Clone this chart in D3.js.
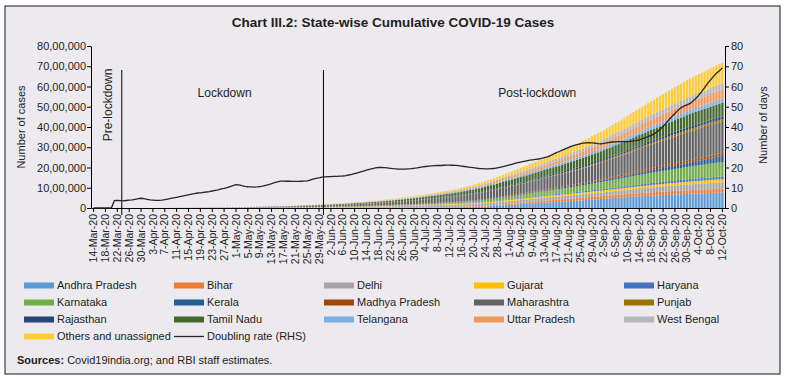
<!DOCTYPE html>
<html><head><meta charset="utf-8">
<script src="https://cdn.jsdelivr.net/npm/d3@7"></script>
<style>
html,body{margin:0;padding:0;background:#fff;}
svg{display:block;font-family:"Liberation Sans",Arial,Helvetica,sans-serif;}
</style></head><body>
<svg id="chart" width="786" height="380"></svg>
<script>
// ---------- DATA (cumulative confirmed cases, in thousands) ----------
const stateNames = ["Andhra Pradesh","Bihar","Delhi","Gujarat","Haryana","Karnataka","Kerala","Madhya Pradesh","Maharashtra","Punjab","Rajasthan","Tamil Nadu","Telangana","Uttar Pradesh","West Bengal","Others and unassigned"];
const stateColors = ["#5B9BD5","#ED7D31","#A5A5A5","#FFC000","#4472C4","#70AD47","#255E91","#9E480E","#636363","#997300","#264478","#43682B","#7CAFDD","#F1975A","#B7B7B7","#FFCD33"];

const andhraPradesh = [0,0,0,0,0,0,0,0,0,0,0,0,0,0,0,0,0,0,0,0,0,0,0,0,0,0,0,0,0,0,0,0,0,
1,1,1,1,1,1,1,1,1,1,1,1,1,1,1,
1,1,1,1,1,
2,2,2,2,2,2,2,2,2,2,
2,2,2,3,3,3,3,3,3,3,3,3,3,4,4,4,
4,4,4,4,4,5,5,5,5,5,5,5,6,6,6,
7,7,8,8,9,9,10,10,11,11,12,12,13,14,15,
16,17,18,19,20,21,23,24,25,27,28,30,31,33,36,
38,41,44,47,50,53,58,64,72,80,88,96,106,116,130,141,
150,158,166,176,186,196,206,217,227,237,247,254,264,273,282,
291,300,306,316,325,334,344,353,363,372,382,392,403,414,424,435,
445,455,466,476,487,498,507,517,527,537,547,557,566,575,584,
592,601,609,617,625,632,639,647,654,661,668,675,681,687,694,
700,707,713,719,723,729,735,740,744,749,753,758];

const bihar = [0,0,0,0,0,0,0,0,0,0,0,0,0,0,0,0,0,0,0,0,0,0,0,0,0,0,0,0,0,0,0,0,0,0,0,0,0,0,0,0,0,0,0,0,0,0,0,0,0,0,0,0,0,0,0,0,
1,1,1,1,1,1,1,1,1,
2,2,2,2,2,
3,3,3,3,3,
4,4,4,4,
4,4,4,5,5,5,5,5,6,6,6,6,6,7,7,
7,7,7,8,8,8,8,8,9,9,9,9,9,10,10,
10,11,11,12,12,13,13,14,14,15,16,16,17,18,19,
20,21,23,24,26,27,29,31,33,35,37,39,42,45,48,51,
54,58,61,64,68,71,75,79,82,86,90,94,97,101,104,
106,108,110,113,115,117,119,121,123,125,127,129,131,132,134,136,
138,140,141,143,145,147,148,150,152,153,155,157,158,160,161,
162,164,165,166,168,169,170,172,173,174,176,177,178,179,180,
181,183,184,185,187,188,189,191,192,193,195,196];

const delhi = [0,0,0,0,0,0,0,0,0,0,0,0,0,0,0,0,0,0,0,0,0,0,0,0,
1,1,1,1,
2,2,2,2,2,2,2,2,
3,3,3,3,3,3,3,3,3,
4,4,4,4,
5,5,5,
6,6,6,
7,7,7,
8,8,8,
9,9,
10,10,11,11,12,12,13,13,14,15,15,16,17,18,19,20,
21,22,23,25,26,27,29,30,32,34,36,37,39,41,43,
45,47,50,53,56,59,62,66,70,73,77,80,83,85,87,
89,92,94,97,99,102,104,107,109,110,112,113,114,115,116,
118,119,120,122,123,124,125,127,128,129,130,131,132,133,135,136,
137,138,139,140,141,142,143,144,146,147,148,149,150,151,152,
153,154,155,157,158,159,161,162,164,165,167,169,170,172,173,175,
177,179,182,185,188,191,194,197,201,205,209,214,218,222,226,
230,234,238,242,246,249,253,257,260,264,267,271,274,277,280,
283,285,288,290,293,295,298,300,303,306,308,311];

const gujarat = [0,0,0,0,0,0,0,0,0,0,0,0,0,0,0,0,0,0,0,0,0,0,0,0,0,0,0,0,0,0,
1,1,1,1,1,1,
2,2,2,2,
3,3,3,3,3,
4,4,4,4,
5,5,5,
6,6,6,
7,7,
8,8,8,
9,9,
10,
10,11,11,12,12,12,13,13,14,14,15,15,15,16,16,17,
17,18,18,19,19,20,20,21,21,22,22,23,23,24,24,
25,25,26,26,27,28,28,29,29,30,31,31,32,32,33,
34,34,35,36,37,38,38,39,40,41,41,42,43,44,45,
46,47,48,49,50,51,52,53,54,55,56,57,58,59,60,61,
62,63,64,65,66,67,68,69,71,72,73,74,75,76,77,
78,79,80,82,83,84,85,86,88,89,90,91,92,94,95,96,
97,99,100,101,103,104,105,106,108,109,110,112,113,114,115,
117,118,120,121,123,124,126,127,129,130,132,133,135,136,138,
139,140,142,143,144,145,147,148,149,150,152,153];

const haryana = [0,0,0,0,0,0,0,0,0,0,0,0,0,0,0,0,0,0,0,0,0,0,0,0,0,0,0,0,0,0,0,0,0,0,0,0,0,0,0,0,0,0,0,0,0,0,0,0,0,0,0,0,0,0,0,
1,1,1,1,1,1,1,1,1,1,1,1,1,1,1,1,
2,2,2,2,2,2,2,2,
2,3,3,3,4,4,4,5,5,5,6,6,7,7,8,
8,9,9,10,10,11,11,12,12,13,13,14,14,15,15,
16,16,17,17,18,18,19,19,20,21,21,22,22,23,23,
24,24,25,26,27,27,28,29,29,30,31,31,32,33,33,34,
35,36,36,37,38,39,39,40,41,41,42,43,44,44,45,
46,47,48,49,50,51,52,53,54,55,57,58,59,60,61,63,
65,67,69,71,73,75,77,79,81,83,85,87,89,92,94,
96,98,101,103,105,108,110,112,114,116,118,120,122,125,127,
128,129,131,132,133,134,135,136,138,139,140,141];

const karnataka = [0,0,0,0,0,0,0,0,0,0,0,0,0,0,0,0,0,0,0,0,0,0,0,0,0,0,0,0,0,0,0,0,0,0,0,0,0,0,0,0,0,0,0,0,0,
1,1,1,1,1,1,1,1,1,1,1,1,1,1,1,1,1,1,1,1,1,1,1,1,1,1,
2,2,2,2,2,
3,3,3,
3,4,4,4,5,5,5,5,6,6,6,7,7,7,8,
8,8,9,9,9,10,10,10,11,11,12,13,13,14,15,
17,18,20,21,23,25,27,29,31,33,36,38,41,44,47,
51,55,59,63,67,71,75,80,85,90,96,101,107,112,118,124,
129,134,140,145,151,158,164,172,179,186,193,200,206,213,219,
226,233,240,249,256,264,271,278,286,292,300,309,318,327,335,342,
351,361,370,379,389,398,404,412,421,430,440,449,459,467,475,
484,494,503,511,519,527,533,541,549,557,566,575,584,593,602,
611,621,630,640,647,655,668,679,690,697,703,710];

const kerala = [0,0,0,0,0,0,0,0,0,0,0,0,0,0,0,0,0,0,0,0,0,0,0,0,0,0,0,0,0,0,0,0,0,0,0,0,0,0,0,0,0,0,0,0,0,0,0,0,0,0,0,0,0,0,0,0,0,0,0,0,0,0,0,
1,1,1,1,1,1,1,1,1,1,1,1,1,1,1,1,1,1,
2,2,2,2,2,2,2,2,
3,3,3,3,3,3,3,3,3,3,
4,4,4,4,4,4,4,4,4,4,
5,5,5,6,6,6,7,7,7,8,8,9,9,10,10,
11,11,12,13,14,14,15,16,17,18,19,20,21,22,23,24,
25,26,27,28,30,31,32,33,34,35,36,38,39,40,41,
43,45,47,48,50,52,54,56,58,60,62,64,67,70,72,75,
77,79,81,84,87,89,92,95,98,101,104,107,111,114,118,
121,125,129,133,138,143,147,152,157,162,168,174,180,188,196,
204,212,221,229,236,242,251,262,273,282,291,300];

const madhyaPradesh = [0,0,0,0,0,0,0,0,0,0,0,0,0,0,0,0,0,0,0,0,0,0,0,0,0,0,0,0,0,
1,1,1,1,1,1,1,1,1,1,1,
2,2,2,2,2,
3,3,3,3,3,3,3,3,
4,4,4,4,4,4,4,4,4,
5,5,5,5,
6,6,6,6,
7,7,7,7,7,
8,8,8,8,
8,8,9,9,9,9,10,10,10,10,10,10,11,11,11,
11,11,12,12,12,12,12,13,13,13,13,13,14,14,14,
14,15,15,15,16,16,16,17,17,17,18,18,18,19,19,
20,21,21,22,23,24,24,25,26,27,28,28,29,30,31,32,
33,34,34,35,36,37,38,39,39,40,41,42,43,43,44,
45,46,48,49,51,52,53,55,56,58,59,61,62,64,65,67,
68,70,71,73,74,76,77,79,81,82,84,85,87,88,90,
92,94,96,99,101,103,106,108,110,113,115,117,120,122,124,
126,127,129,130,132,133,135,136,138,139,141,142];

const maharashtra = [0,0,0,0,0,0,0,0,0,0,0,0,0,0,0,0,0,0,0,0,0,0,0,0,
1,1,1,1,
2,2,2,2,
3,
3,4,4,5,5,6,6,7,7,8,8,9,10,10,11,
12,13,14,15,16,17,18,19,20,22,23,25,26,27,29,
31,33,35,37,39,42,44,47,50,52,54,57,59,62,65,68,
70,73,75,78,81,83,86,88,91,94,97,101,104,108,111,
114,117,121,124,128,132,136,140,143,148,152,157,162,169,175,
181,187,193,200,206,213,217,224,231,238,246,254,260,267,276,
284,292,300,310,318,327,337,347,357,366,375,383,392,401,411,422,
432,442,451,461,469,479,490,503,515,525,535,548,560,573,585,
596,604,615,628,643,657,671,682,693,703,718,733,747,764,780,793,
808,825,843,863,883,907,924,943,967,990,1015,1037,1060,1077,1098,
1121,1145,1167,1188,1209,1224,1242,1263,1284,1305,1324,1341,1359,1381,1401,
1416,1430,1443,1453,1465,1480,1492,1504,1512,1521,1528,1535];

const punjab = [0,0,0,0,0,0,0,0,0,0,0,0,0,0,0,0,0,0,0,0,0,0,0,0,0,0,0,0,0,0,0,0,0,0,0,0,0,0,0,0,0,0,0,0,0,0,0,0,
1,1,1,
2,2,2,2,2,2,2,2,2,2,2,2,2,2,2,2,2,2,2,2,2,2,2,2,2,2,2,2,2,2,2,2,2,2,2,2,
3,3,3,3,3,3,3,3,3,3,3,
4,4,4,4,4,
5,5,5,
6,6,6,
6,6,7,7,7,7,7,8,8,8,8,8,9,9,9,
10,10,10,11,11,11,12,12,13,13,14,14,15,15,16,16,
17,17,18,19,20,20,21,22,23,24,25,25,26,27,28,
29,31,32,34,35,37,38,40,41,43,44,46,48,50,52,54,
56,57,59,61,63,64,66,68,70,71,73,75,77,79,81,
83,85,87,90,92,94,97,99,101,103,106,108,110,112,114,
115,116,117,118,118,119,120,121,122,122,123,124];

const rajasthan = [0,0,0,0,0,0,0,0,0,0,0,0,0,0,0,0,0,0,0,0,0,0,0,0,0,0,0,0,0,
1,1,1,1,1,1,1,1,1,1,
2,2,2,2,2,2,
3,3,3,3,3,3,3,3,
4,4,4,4,4,4,
5,5,5,5,5,
6,6,6,6,
7,7,7,7,
8,8,8,8,
9,9,9,
9,9,10,10,10,11,11,11,11,12,12,12,12,13,13,
13,14,14,14,15,15,15,16,16,16,17,17,17,18,18,
19,19,20,20,21,21,22,22,23,23,24,24,25,25,26,
27,28,29,30,31,32,33,33,34,35,36,37,38,39,40,41,
42,43,45,46,47,48,49,51,52,53,54,55,57,58,59,
60,62,63,65,66,68,69,70,72,73,75,76,78,79,81,82,
83,85,87,88,90,92,93,95,96,98,99,101,103,104,106,
108,110,111,113,115,117,118,120,122,124,125,127,129,130,132,
134,136,138,139,141,143,145,146,148,150,151,153];

const tamilNadu = [0,0,0,0,0,0,0,0,0,0,0,0,0,0,0,0,0,0,0,0,0,0,0,
1,1,1,1,1,1,1,1,1,1,1,1,1,1,1,1,
2,2,2,2,2,2,2,2,2,
3,3,3,4,4,5,6,6,7,8,8,9,9,10,10,
11,11,12,12,13,14,14,15,16,16,17,18,19,20,21,22,
24,25,27,28,30,31,33,34,36,38,40,42,43,44,46,
48,50,53,56,59,62,65,67,70,74,77,80,83,86,90,
94,98,102,107,111,115,118,122,126,130,134,138,142,147,152,
156,161,166,171,175,180,186,192,199,206,213,220,227,234,239,246,
251,257,263,268,274,279,285,291,297,303,309,314,320,326,332,
338,343,349,355,361,367,373,379,385,391,397,403,409,415,422,428,
434,440,445,451,457,463,469,474,480,486,491,497,503,508,514,
520,525,531,536,542,548,553,559,564,570,575,581,586,592,598,
603,608,614,619,624,630,635,640,645,651,656,661];

const telangana = [0,0,0,0,0,0,0,0,0,0,0,0,0,0,0,0,0,0,0,0,0,0,0,0,0,0,0,0,0,0,
1,1,1,1,1,1,1,1,1,1,1,1,1,1,1,1,1,1,1,1,1,1,1,1,1,1,1,1,1,1,
2,2,2,2,2,2,2,2,2,2,2,2,2,
3,3,3,3,3,3,3,3,3,3,
4,4,4,4,4,4,
5,5,5,5,5,
6,6,7,7,8,8,9,9,10,11,12,13,14,15,16,
17,18,20,21,23,24,26,27,29,30,32,34,35,37,39,
41,42,44,45,47,49,50,52,54,55,57,58,60,62,63,65,
67,69,71,72,74,76,78,79,81,83,84,86,88,89,91,
93,95,98,100,102,104,107,109,111,114,116,118,121,123,125,128,
130,133,135,138,140,143,145,147,150,152,154,156,158,161,163,
165,167,169,171,173,175,177,179,181,183,185,187,188,190,191,
193,195,197,199,200,202,204,205,207,209,210,212];

const uttarPradesh = [0,0,0,0,0,0,0,0,0,0,0,0,0,0,0,0,0,0,0,0,0,0,0,0,0,0,0,0,0,0,
1,1,1,1,1,1,1,1,1,1,1,1,
2,2,2,2,2,2,2,2,2,
3,3,3,3,3,3,3,3,
4,4,4,4,4,4,
5,5,5,5,
6,6,6,
7,7,7,7,
8,8,8,
8,9,9,9,10,10,10,11,11,12,12,13,13,14,14,
15,15,16,16,17,17,18,18,19,20,20,21,21,22,23,
24,25,26,27,28,29,30,31,32,33,35,36,38,39,41,
43,45,47,49,51,53,56,58,61,64,67,70,74,77,81,86,
90,94,98,102,106,110,113,118,122,127,131,136,140,145,150,
154,159,163,168,172,177,182,187,192,198,203,208,214,219,225,230,
236,242,248,254,260,266,272,278,285,291,298,305,311,318,324,
330,336,342,348,353,358,364,369,374,379,384,388,392,395,399,
403,406,410,413,417,420,423,427,430,432,435,438];

const westBengal = [0,0,0,0,0,0,0,0,0,0,0,0,0,0,0,0,0,0,0,0,0,0,0,0,0,0,0,0,0,0,0,0,0,0,0,0,0,0,0,0,0,0,0,0,0,
1,1,1,1,1,1,1,1,1,1,1,1,
2,2,2,2,2,2,
3,3,3,3,
4,4,4,4,4,
5,5,5,5,5,
6,6,
6,6,7,7,7,8,8,9,9,10,10,11,11,12,12,
12,13,13,14,14,15,15,15,16,16,17,17,18,18,19,
20,21,21,22,23,24,25,26,27,28,29,30,31,32,34,
36,38,40,42,44,46,48,51,53,56,58,61,63,65,67,70,
73,75,78,81,84,87,89,92,95,98,101,104,107,110,113,
116,119,122,125,128,131,135,138,141,144,147,150,153,156,160,163,
166,169,172,175,178,181,184,187,190,193,197,200,203,206,209,
212,215,219,222,225,228,232,235,238,241,245,248,251,254,257,
260,264,267,270,274,277,281,284,288,292,295,299];

const othersUnassigned = [0,0,0,0,0,0,0,0,0,0,0,0,0,0,0,0,0,0,0,0,0,0,0,0,0,0,0,0,0,0,0,0,0,0,0,
1,1,1,1,1,1,1,1,1,1,1,1,1,1,1,1,1,1,1,1,1,
2,2,2,2,2,2,2,2,2,
3,3,3,
4,4,
5,5,
6,7,8,9,10,12,13,
14,14,15,15,16,16,17,17,18,19,19,20,21,21,22,
23,24,25,26,27,28,29,30,31,32,33,34,35,37,38,
40,42,44,46,48,50,52,54,56,58,60,62,64,67,70,
74,78,82,86,90,94,98,103,108,113,118,123,128,134,141,148,
155,162,169,176,184,191,199,207,215,223,230,238,246,254,262,
271,280,289,298,307,316,326,336,346,356,366,376,386,397,409,421,
434,447,461,475,489,503,518,533,548,564,581,598,614,631,648,
663,678,693,708,723,738,754,770,786,802,817,832,847,862,878,
891,904,917,930,943,956,969,982,995,1007,1018,1030];

// Doubling rate (days), right-hand scale
const doublingRate = [0,0,0,0,0,0,0,3.6,3.7,3.6,
3.5,3.7,3.9,4.0,4.3,4.6,4.8,4.6,4.3,4.0,
3.9,3.8,3.8,3.9,4.1,4.4,4.7,5.0,5.3,5.6,
5.9,6.2,6.5,6.8,7.1,7.4,7.5,7.7,7.9,8.1,
8.4,8.7,9.0,9.4,9.7,10.1,10.6,11.1,11.5,11.4,
11.0,10.7,10.5,10.4,10.3,10.4,10.6,10.8,11.2,11.6,
12.0,12.5,12.9,13.3,13.3,13.2,13.2,13.1,13.1,13.1,
13.2,13.3,13.4,13.8,14.2,14.6,14.9,15.2,15.4,15.5,
15.5,15.6,15.6,15.7,15.8,16.0,16.3,16.6,17.0,17.4,
17.8,18.2,18.7,19.1,19.5,19.8,20.0,20.0,19.9,19.8,
19.6,19.4,19.3,19.2,19.2,19.2,19.3,19.4,19.6,19.8,
20.1,20.3,20.5,20.7,20.8,20.9,21.0,21.0,21.1,21.2,
21.2,21.1,21.0,20.9,20.7,20.5,20.3,20.1,19.9,19.7,
19.5,19.4,19.3,19.3,19.4,19.5,19.8,20.1,20.4,20.8,
21.2,21.6,22.0,22.4,22.7,23.0,23.3,23.6,23.8,24.0,
24.2,24.5,24.9,25.3,25.9,26.6,27.3,27.9,28.6,29.2,
29.8,30.4,30.9,31.3,31.7,32.0,32.2,32.3,32.2,32.0,
31.8,31.7,31.9,32.2,32.4,32.6,32.7,32.8,32.8,32.8,
32.8,32.9,33.1,33.3,33.7,34.2,34.7,35.3,35.9,36.6,
37.6,38.9,40.2,41.9,43.6,45.2,46.7,48.2,49.5,50.3,
50.9,51.5,52.7,54.1,55.6,57.5,59.5,61.5,63.3,65.0,
66.5,67.8,69.2];

const xTickLabels = ["14-Mar-20","18-Mar-20","22-Mar-20","26-Mar-20","30-Mar-20","3-Apr-20","7-Apr-20","11-Apr-20","15-Apr-20","19-Apr-20","23-Apr-20","27-Apr-20","1-May-20","5-May-20","9-May-20","13-May-20","17-May-20","21-May-20","25-May-20","29-May-20","2-Jun-20","6-Jun-20","10-Jun-20","14-Jun-20","18-Jun-20","22-Jun-20","26-Jun-20","30-Jun-20","4-Jul-20","8-Jul-20","12-Jul-20","16-Jul-20","20-Jul-20","24-Jul-20","28-Jul-20","1-Aug-20","5-Aug-20","9-Aug-20","13-Aug-20","17-Aug-20","21-Aug-20","25-Aug-20","29-Aug-20","2-Sep-20","6-Sep-20","10-Sep-20","14-Sep-20","18-Sep-20","22-Sep-20","26-Sep-20","30-Sep-20","4-Oct-20","8-Oct-20","12-Oct-20"];
const yTickValues = [0,1000,2000,3000,4000,5000,6000,7000,8000];
const yTickLabels = ["0","10,00,000","20,00,000","30,00,000","40,00,000","50,00,000","60,00,000","70,00,000","80,00,000"];
const y2TickValues = [0,10,20,30,40,50,60,70,80];
const phaseBreaks = ["24-Mar-20","31-May-20"];
const phaseLabels = ["Pre-lockdown","Lockdown","Post-lockdown"];

const series = [andhraPradesh,bihar,delhi,gujarat,haryana,karnataka,kerala,madhyaPradesh,maharashtra,punjab,rajasthan,tamilNadu,telangana,uttarPradesh,westBengal,othersUnassigned];

// ---------- CHART ----------
const svg = d3.select("#chart");
const txt = "#231F20";
const dates = d3.timeDay.range(new Date(2020,2,14), new Date(2020,9,13)).map(d3.timeFormat("%-d-%b-%y"));
const X0 = 91, X1 = 725, Y0 = 208, Y1 = 46;

svg.append("rect").attr("x",5).attr("y",6).attr("width",775).attr("height",368)
  .attr("fill","#ECE9EF").attr("stroke","#3b3b3b").attr("stroke-width",1.2);

svg.append("text").attr("x",393).attr("y",27).attr("text-anchor","middle")
  .attr("font-size",13.5).attr("font-weight","bold").attr("fill",txt)
  .text("Chart III.2: State-wise Cumulative COVID-19 Cases");

const x = d3.scaleBand().domain(dates).range([X0,X1]).paddingInner(0.25).paddingOuter(0.5);
const y = d3.scaleLinear().domain([0,8000]).range([Y0,Y1]);
const y2 = d3.scaleLinear().domain([0,80]).range([Y0,Y1]);

const rows = dates.map((d,i)=>{const r={date:d}; stateNames.forEach((k,j)=>{r[k]=series[j][i]||0;}); return r;});
const stacked = d3.stack().keys(stateNames)(rows);

svg.append("g").selectAll("g").data(stacked).join("g")
  .attr("fill",(d,i)=>stateColors[i])
  .selectAll("rect").data(d=>d).join("rect")
  .attr("x",d=>x(d.data.date)).attr("width",x.bandwidth())
  .attr("y",d=>y(d[1])).attr("height",d=>Math.max(0,y(d[0])-y(d[1])));

// axes
const fontAxis = 11;
const gl = svg.append("g").attr("transform",`translate(${X0},0)`)
  .call(d3.axisLeft(y).tickValues(yTickValues).tickFormat((d,i)=>yTickLabels[i]).tickSize(4).tickPadding(1).tickSizeOuter(0));
const gr = svg.append("g").attr("transform",`translate(${X1},0)`)
  .call(d3.axisRight(y2).tickValues(y2TickValues).tickSize(4).tickPadding(2).tickSizeOuter(0));
const gb = svg.append("g").attr("transform",`translate(0,${Y0})`)
  .call(d3.axisBottom(x).tickValues(xTickLabels).tickSize(4).tickSizeOuter(0));
gb.selectAll("text").attr("transform","rotate(-90)").attr("text-anchor","end")
  .attr("x",-6).attr("y",0).attr("dy","0.35em").attr("font-size",10.5);
[gl,gr].forEach(g=>g.selectAll("text").attr("font-size",fontAxis));
[gl,gr,gb].forEach(g=>{g.selectAll("text").attr("fill",txt).attr("font-family",null);
  g.selectAll("line,path").attr("stroke","#000");});

svg.append("text").attr("transform","translate(21,127) rotate(-90)").attr("text-anchor","middle")
  .attr("dy","0.35em").attr("font-size",11).attr("fill",txt).text("Number of cases");
svg.append("text").attr("transform","translate(763,125) rotate(-90)").attr("text-anchor","middle")
  .attr("dy","0.35em").attr("font-size",11).attr("fill",txt).text("Number of days");

// phase lines
const bx = d => x(d) - (x.step()-x.bandwidth())/2;
const px = phaseBreaks.map(bx);
svg.append("g").selectAll("line").data(px).join("line")
  .attr("x1",d=>d).attr("x2",d=>d).attr("y1",70).attr("y2",215)
  .attr("stroke","#000").attr("stroke-width",1);

// doubling line
svg.append("path").datum(doublingRate)
  .attr("d", d3.line().x((d,i)=>x(dates[i])+x.bandwidth()/2).y(d=>y2(d)))
  .attr("fill","none").attr("stroke","#262626").attr("stroke-width",1.3);

// phase labels
svg.append("text").attr("transform",`translate(${(X0+px[0])/2+1},105) rotate(-90)`)
  .attr("text-anchor","middle").attr("dy","0.35em").attr("font-size",12).attr("fill",txt).text(phaseLabels[0]);
svg.append("text").attr("x",(px[0]+px[1])/2+2).attr("y",97).attr("text-anchor","middle")
  .attr("font-size",12).attr("fill",txt).text(phaseLabels[1]);
svg.append("text").attr("x",(px[1]+X1)/2+13).attr("y",97).attr("text-anchor","middle")
  .attr("font-size",12).attr("fill",txt).text(phaseLabels[2]);

// legend
const colX = [24,174,324,474,624], rowY = [285.5,302.5,319.5,336.5];
const leg = svg.append("g");
stateNames.forEach((n,i)=>{
  const cx = colX[i%5], cy = rowY[Math.floor(i/5)];
  leg.append("rect").attr("x",cx).attr("y",cy-3).attr("width",30).attr("height",6).attr("fill",stateColors[i]);
  leg.append("text").attr("x",cx+33).attr("y",cy).attr("dy","0.35em").attr("font-size",11).attr("fill",txt).text(n);
});
leg.append("line").attr("x1",colX[1]).attr("x2",colX[1]+30).attr("y1",rowY[3]).attr("y2",rowY[3])
  .attr("stroke","#262626").attr("stroke-width",1.3);
leg.append("text").attr("x",colX[1]+33).attr("y",rowY[3]).attr("dy","0.35em").attr("font-size",11).attr("fill",txt).text("Doubling rate (RHS)");

const src = svg.append("text").attr("x",17).attr("y",360).attr("dy","0.35em").attr("font-size",11).attr("fill",txt);
src.append("tspan").attr("font-weight","bold").text("Sources:");
src.append("tspan").text(" Covid19india.org; and RBI staff estimates.");

// length check (debug)
const bad = series.map((s,i)=>s.length!==213?stateNames[i]+":"+s.length:null).filter(Boolean);
if(doublingRate.length!==213) bad.push("doubling:"+doublingRate.length);
if(dates.length!==213) bad.push("dates:"+dates.length);
if(bad.length) svg.append("text").attr("x",300).attr("y",150).attr("fill","red").attr("font-size",12).text(bad.join(" "));
</script>
</body></html>
